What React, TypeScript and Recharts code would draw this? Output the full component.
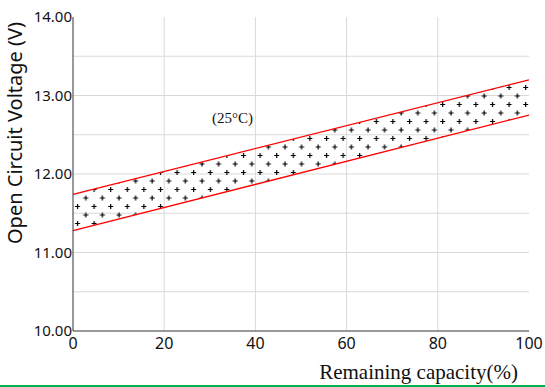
import React from "react";
import {
  ComposedChart,
  Area,
  Line,
  XAxis,
  YAxis,
  CartesianGrid,
  ReferenceDot,
} from "recharts";

const capacity = [0, 100];
const upperVoltage = [11.74, 13.2];
const lowerVoltage = [11.28, 12.75];
const xTicks = [0, 20, 40, 60, 80, 100];
const yTicks = [10, 11, 12, 13, 14];
const yGrid = [10.5, 11, 11.5, 12, 12.5, 13, 13.5];
const xGrid = [20, 40, 60, 80];
const annotation = { x: 35, y: 12.72, text: "(25°C)" };

const data = capacity.map((c, i) => ({
  cap: c,
  upper: upperVoltage[i],
  lower: lowerVoltage[i],
  band: [lowerVoltage[i], upperVoltage[i]],
}));

const sans = "'Noto Sans', 'Open Sans', sans-serif";
const serif = "'Liberation Serif', 'Times New Roman', serif";

export default function App() {
  return (
    <div style={{ position: "absolute", left: 0, top: 0, width: 545, height: 387, background: "#fff" }}>
      <ComposedChart
        width={545}
        height={387}
        data={data}
        margin={{ top: 17, right: 16, left: 0, bottom: 0 }}
      >
        <defs>
          <pattern id="crossPat" patternUnits="userSpaceOnUse" width={16.6} height={17} x={73} y={0}>
            <path d="M2 2.5 H7 M4.5 0 V5" stroke="#000" strokeWidth={1.2} fill="none" />
            <path d="M10.3 11 H15.3 M12.8 8.5 V13.5" stroke="#000" strokeWidth={1.2} fill="none" />
          </pattern>
        </defs>
        <CartesianGrid
          stroke="#d9d9d9"
          horizontalValues={yGrid}
          verticalValues={xGrid}
        />
        <XAxis
          dataKey="cap"
          type="number"
          domain={[0, 100]}
          ticks={xTicks}
          height={56}
          tickLine={false}
          tickSize={0}
          tickMargin={7}
          stroke="#333"
          tick={{ fill: "#111", fontSize: 16, fontFamily: sans }}
          label={{
            value: "Remaining capacity(%)",
            position: "insideBottomRight",
            offset: 8,
            dx: -3,
            style: { fill: "#111", fontSize: 21, fontFamily: serif, textAnchor: "end" },
          }}
        />
        <YAxis
          type="number"
          domain={[10, 14]}
          ticks={yTicks}
          width={73}
          tickLine={false}
          tickSize={0}
          tickMargin={1}
          stroke="#333"
          tickFormatter={(v: number) => v.toFixed(2)}
          tick={{ fill: "#111", fontSize: 15, fontFamily: sans }}
          label={{
            value: "Open Circuit Voltage (V)",
            angle: -90,
            position: "insideLeft",
            offset: 0,
            dx: 15,
            dy: -41,
            style: { fill: "#111", fontSize: 20, fontFamily: sans, textAnchor: "middle" },
          }}
        />
        <Area
          dataKey="band"
          type="linear"
          stroke="none"
          fill="url(#crossPat)"
          fillOpacity={1}
          isAnimationActive={false}
        />
        <Line dataKey="upper" type="linear" stroke="#ff0000" strokeWidth={1.3} dot={false} isAnimationActive={false} />
        <Line dataKey="lower" type="linear" stroke="#ff0000" strokeWidth={1.3} dot={false} isAnimationActive={false} />
        <ReferenceDot
          x={annotation.x}
          y={annotation.y}
          r={0}
          fill="none"
          stroke="none"
          label={{ value: annotation.text, position: "center", style: { fill: "#111", fontSize: 15, fontFamily: serif } }}
        />
        <XAxis xAxisId="top" orientation="top" dataKey="cap" type="number" domain={[0, 100]} height={0} tick={false} tickLine={false} stroke="#333" />
        <YAxis yAxisId="right" orientation="right" domain={[10, 14]} width={0} tick={false} tickLine={false} stroke="#333" />
      </ComposedChart>
      <div style={{ position: "absolute", left: 0, top: 385, width: 545, height: 1.5, background: "#00b050" }} />
    </div>
  );
}
